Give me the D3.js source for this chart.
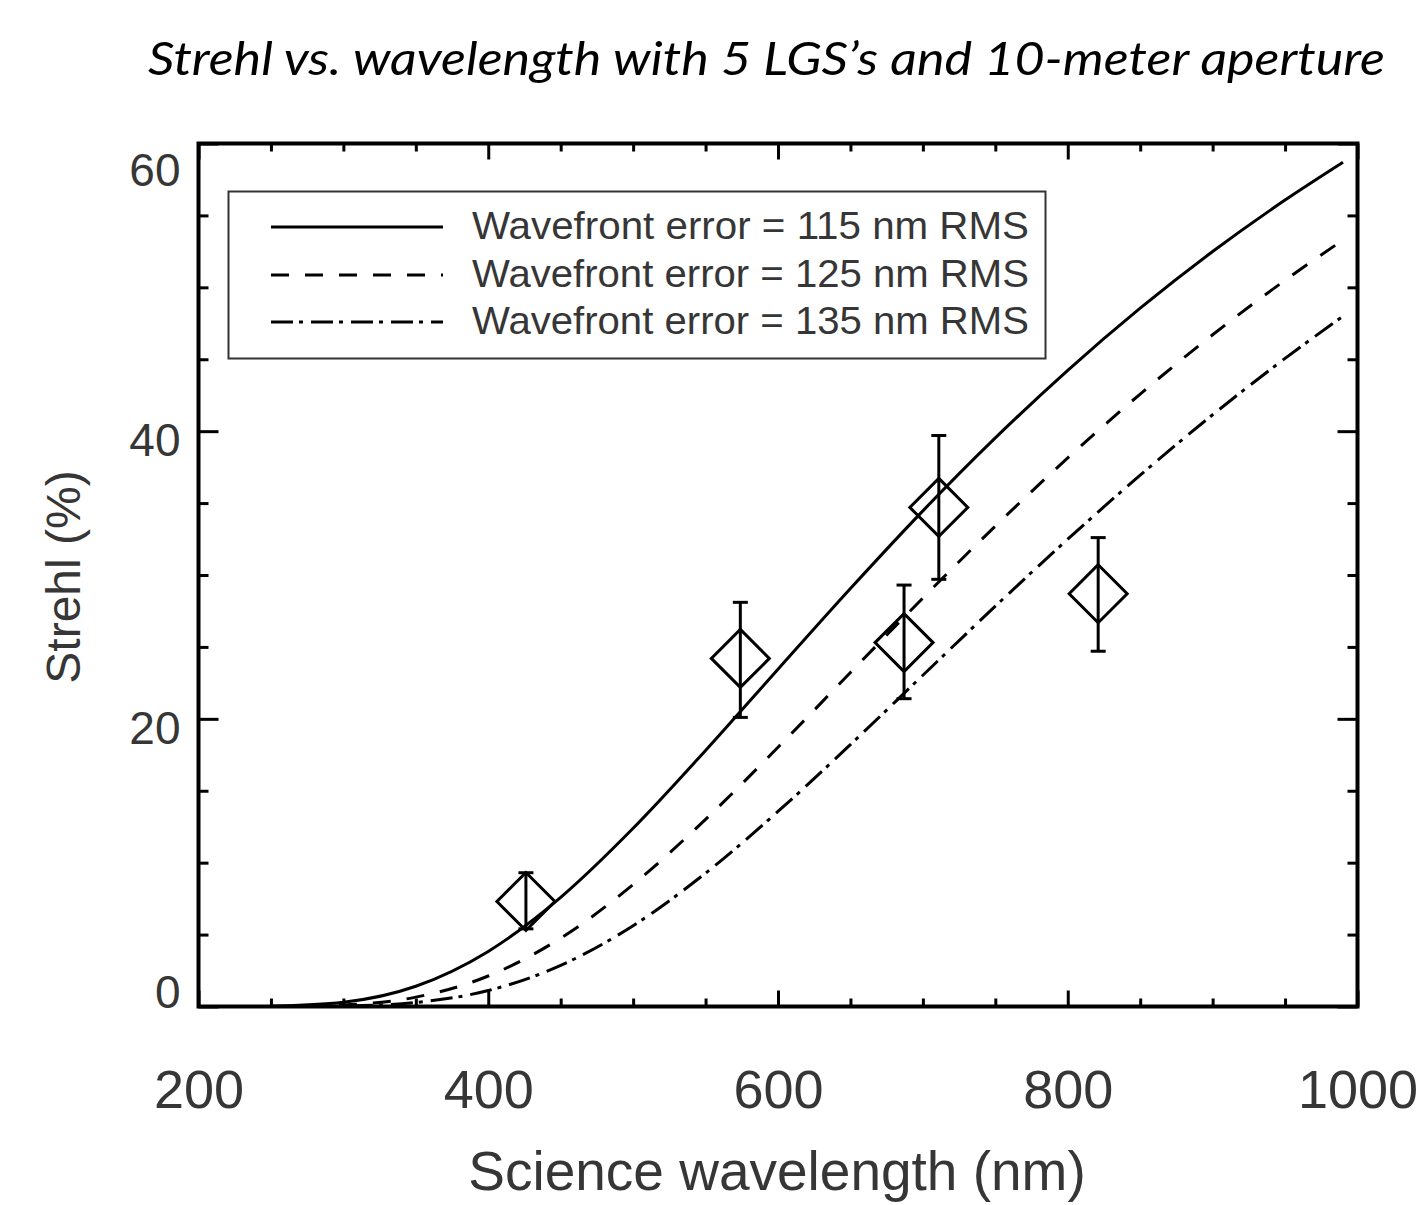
<!DOCTYPE html>
<html>
<head>
<meta charset="utf-8">
<script src="https://cdn.jsdelivr.net/npm/d3@7"></script>
<style>
  html, body { margin: 0; padding: 0; background: #fff; }
  svg { display: block; }
</style>
</head>
<body>
<script>
// ---------- data ----------
const titleText = "Strehl vs. wavelength with 5 LGS\u2019s and 10-meter aperture";
const xTitle = "Science wavelength (nm)";
const yTitle = "Strehl (%)";

const xTickLabels = [200, 400, 600, 800, 1000];
const yTickLabels = [0, 20, 40, 60];

const wavelengths = [250, 300, 350, 400, 450, 500, 550, 600, 650, 700, 750, 800, 850, 900, 950, 990];
const strehl115 = [0.02, 0.30, 1.41, 3.83, 7.59, 12.39, 17.80, 23.45, 29.06, 34.46, 39.53, 44.23, 48.55, 52.49, 56.07, 58.70];
const strehl125 = [0.01, 0.11, 0.65, 2.12, 4.75, 8.48, 13.01, 18.02, 23.22, 28.40, 33.40, 38.14, 42.58, 46.70, 50.49, 53.29];
const strehl135 = [0.00, 0.03, 0.28, 1.11, 2.86, 5.62, 9.27, 13.56, 18.21, 23.03, 27.83, 32.49, 36.94, 41.14, 45.06, 47.99];

const seriesNames = ["Wavefront error = 115 nm RMS", "Wavefront error = 125 nm RMS", "Wavefront error = 135 nm RMS"];

const obsWavelength = [426, 574, 687, 711, 821];
const obsStrehl     = [7.3, 24.2, 25.3, 34.7, 28.7];
const obsHigh       = [9.3, 28.1, 29.3, 39.7, 32.6];
const obsLow        = [5.4, 20.1, 21.4, 29.7, 24.7];

(function () {
// ---------- layout ----------
const W = 1421, H = 1205;
const pL = 198.5, pR = 1357.5, pT = 143.5, pB = 1006.5;
const textGrey = "#363636";
const sansFont = "'Liberation Sans', Arial, Helvetica, sans-serif";

const svg = d3.select("body").append("svg").attr("width", W).attr("height", H);

const x = d3.scaleLinear().domain([200, 1000]).range([pL, pR]);
const y = d3.scaleLinear().domain([0, 60]).range([pB, pT]);

// title
svg.append("text")
  .attr("x", 148).attr("y", 75)
  .attr("textLength", 1237).attr("lengthAdjust", "spacingAndGlyphs")
  .style("font-family", "Lato, 'Open Sans', sans-serif")
  .style("font-style", "italic")
  .style("font-size", "46px")
  .style("fill", "#000")
  .text(titleText);

// ---------- ticks (inward, all four sides) ----------
const xTickVals = d3.range(200, 1001, 50);
const yTickVals = d3.range(0, 61, 5);
const isMajorX = d => d % 200 === 0;
const isMajorY = d => d % 20 === 0;

function styleTicks(g) {
  g.select(".domain").remove();
  g.selectAll(".tick line").attr("stroke", "#000").attr("stroke-width", 3);
}

svg.append("g").attr("transform", `translate(0,${pB})`)
  .call(d3.axisBottom(x).tickValues(xTickVals).tickSizeInner(-8).tickSizeOuter(0).tickFormat(""))
  .call(styleTicks)
  .call(g => g.selectAll(".tick line").attr("y2", d => isMajorX(d) ? -16 : -8));

svg.append("g").attr("transform", `translate(0,${pT})`)
  .call(d3.axisTop(x).tickValues(xTickVals).tickSizeInner(-8).tickSizeOuter(0).tickFormat(""))
  .call(styleTicks)
  .call(g => g.selectAll(".tick line").attr("y2", d => isMajorX(d) ? 16 : 8));

svg.append("g").attr("transform", `translate(${pL},0)`)
  .call(d3.axisLeft(y).tickValues(yTickVals).tickSizeInner(-10).tickSizeOuter(0).tickFormat(""))
  .call(styleTicks)
  .call(g => g.selectAll(".tick line").attr("x2", d => isMajorY(d) ? 20 : 10));

svg.append("g").attr("transform", `translate(${pR},0)`)
  .call(d3.axisRight(y).tickValues(yTickVals).tickSizeInner(-10).tickSizeOuter(0).tickFormat(""))
  .call(styleTicks)
  .call(g => g.selectAll(".tick line").attr("x2", d => isMajorY(d) ? -20 : -10));

// tick labels
svg.append("g").attr("transform", `translate(0,${pB})`)
  .call(d3.axisBottom(x).tickValues(xTickLabels).tickSize(0).tickFormat(d3.format("d")))
  .call(g => g.select(".domain").remove())
  .call(g => g.selectAll("text")
    .attr("y", 101.5).attr("dy", 0)
    .style("font-family", sansFont).style("font-size", "54px").style("fill", textGrey));

const yLabelShift = {0: 0.5, 20: 24.5, 40: 24, 60: 41.5};
svg.append("g").attr("transform", `translate(${pL},0)`)
  .call(d3.axisLeft(y).tickValues(yTickLabels).tickSize(0).tickFormat(d3.format("d")))
  .call(g => g.select(".domain").remove())
  .call(g => g.selectAll("text")
    .attr("x", -18).attr("dy", 0).attr("y", d => yLabelShift[d])
    .style("font-family", sansFont).style("font-size", "46px").style("fill", textGrey));

// axis titles
svg.append("text")
  .attr("x", (pL + pR) / 2 - 1).attr("y", 1190)
  .attr("text-anchor", "middle")
  .style("font-family", sansFont).style("font-size", "55px").style("fill", textGrey)
  .text(xTitle);

svg.append("text")
  .attr("transform", "translate(80,577) rotate(-90)")
  .attr("text-anchor", "middle")
  .style("font-family", sansFont).style("font-size", "48px").style("fill", textGrey)
  .text(yTitle);

// ---------- curves ----------
const dashes = [null, "18,16", "22,6,4,8"];
const curves = [strehl115, strehl125, strehl135];
const line = d3.line()
  .x(d => x(d[0])).y(d => y(d[1]))
  .curve(d3.curveMonotoneX);

curves.forEach((vals, i) => {
  svg.append("path")
    .datum(wavelengths.map((w, j) => [w, vals[j]]))
    .attr("d", line)
    .attr("fill", "none")
    .attr("stroke", "#000")
    .attr("stroke-width", 3)
    .attr("stroke-dasharray", dashes[i]);
});

// ---------- observations: error bars + diamonds ----------
const obs = obsWavelength.map((w, i) => ({w, s: obsStrehl[i], hi: obsHigh[i], lo: obsLow[i]}));
const gObs = svg.append("g").attr("stroke", "#000").attr("stroke-width", 3).attr("fill", "none");
const capHalf = 7.5, dHalf = 29;

obs.forEach(o => {
  const cx = x(o.w), cy = y(o.s);
  gObs.append("line").attr("x1", cx).attr("x2", cx).attr("y1", y(o.hi)).attr("y2", y(o.lo));
  gObs.append("line").attr("x1", cx - capHalf).attr("x2", cx + capHalf).attr("y1", y(o.hi)).attr("y2", y(o.hi));
  gObs.append("line").attr("x1", cx - capHalf).attr("x2", cx + capHalf).attr("y1", y(o.lo)).attr("y2", y(o.lo));
  gObs.append("path")
    .attr("d", `M${cx},${cy - dHalf} L${cx + dHalf},${cy} L${cx},${cy + dHalf} L${cx - dHalf},${cy} Z`);
});

// ---------- frame ----------
svg.append("rect")
  .attr("x", pL).attr("y", pT)
  .attr("width", pR - pL).attr("height", pB - pT)
  .attr("fill", "none").attr("stroke", "#000").attr("stroke-width", 4);

// ---------- legend ----------
const leg = svg.append("g");
leg.append("rect")
  .attr("x", 228.5).attr("y", 191.5).attr("width", 817).attr("height", 167)
  .attr("fill", "#fff").attr("stroke", "#333").attr("stroke-width", 2);

const legRowY = [227, 275, 322];
seriesNames.forEach((name, i) => {
  leg.append("line")
    .attr("x1", 271).attr("x2", 443)
    .attr("y1", legRowY[i]).attr("y2", legRowY[i])
    .attr("stroke", "#000").attr("stroke-width", 3)
    .attr("stroke-dasharray", dashes[i]);
  leg.append("text")
    .attr("x", 472).attr("y", legRowY[i] + 12)
    .attr("textLength", 557).attr("lengthAdjust", "spacingAndGlyphs")
    .style("font-family", sansFont).style("font-size", "39px").style("fill", textGrey)
    .text(name);
});
})();
</script>
</body>
</html>
